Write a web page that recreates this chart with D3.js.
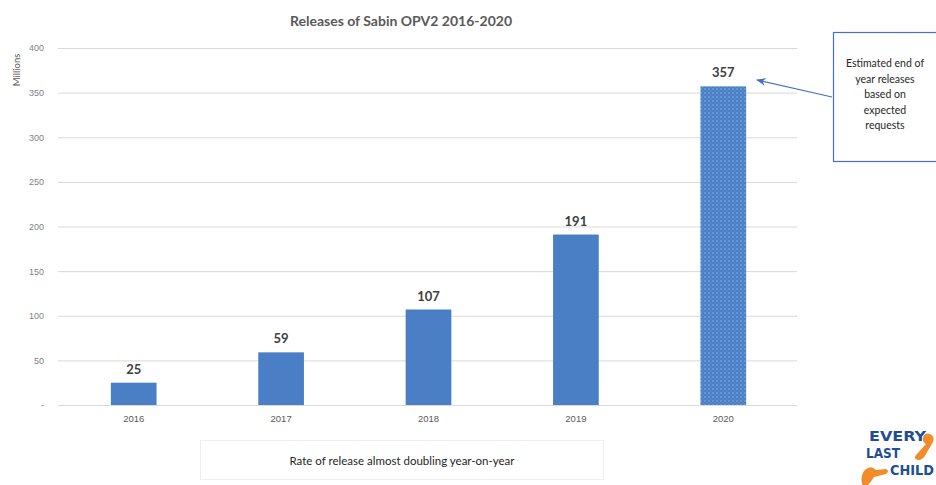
<!DOCTYPE html>
<html><head><meta charset="utf-8">
<script src="https://cdn.jsdelivr.net/npm/d3@7"></script>
<style>body{margin:0;background:#fff;}svg{display:block;font-family:Lato,"Open Sans",sans-serif;}</style>
</head><body>
<svg id="c" width="936" height="485"></svg>
<script>
const years = ["2016","2017","2018","2019","2020"];
const releases = [25, 59, 107, 191, 357];
const yTicks = [0,50,100,150,200,250,300,350,400];
const estimatedYear = "2020";
const title = "Releases of Sabin OPV2 2016-2020";
const yLabel = "Millions";
const noteText = ["Estimated end of","year releases","based on","expected","requests"];
const footText = "Rate of release almost doubling year-on-year";
const logoWords = ["EVERY","LAST","CHILD"];

const svg = d3.select("#c");
const m = {l:60, r:139, t:48, b:80};
const W = 936, H = 485;
const x = d3.scaleBand().domain(years).range([m.l, W-m.r]).paddingInner(0.69).paddingOuter(0.345);
const y = d3.scaleLinear().domain([0,400]).range([405, 48]);

const defs = svg.append("defs");
const pat = defs.append("pattern").attr("id","dots").attr("patternUnits","userSpaceOnUse").attr("width",4).attr("height",4);
pat.append("rect").attr("width",4).attr("height",4).attr("fill","#4a7fc6");
pat.append("circle").attr("cx",1).attr("cy",1).attr("r",0.8).attr("fill","#8fb3e3");
pat.append("circle").attr("cx",3).attr("cy",3).attr("r",0.6).attr("fill","#6f9bd6");
const mk = defs.append("marker").attr("id","arr").attr("viewBox","0 0 10 10").attr("refX",9).attr("refY",5)
  .attr("markerWidth",8).attr("markerHeight",8).attr("orient","auto-start-reverse");
mk.append("path").attr("d","M0,1 L10,5 L0,9 L3,5 Z").attr("fill","#4472c4");

// gridlines + y axis
const yAxis = d3.axisLeft(y).tickValues(yTicks).tickSize(-(W-m.r-m.l+2)).tickPadding(14)
  .tickFormat(d => d===0 ? "-" : d);
const gy = svg.append("g").attr("transform",`translate(${m.l-2},0)`).call(yAxis);
gy.select(".domain").remove();
gy.selectAll(".tick line").attr("stroke","#d9d9d9").attr("stroke-width",1);
gy.selectAll(".tick text").attr("fill","#7f7f7f").style("font-size","9px");

// x axis labels
const xAxis = d3.axisBottom(x).tickSize(0).tickPadding(10);
const gx = svg.append("g").attr("transform",`translate(0,${y(0)})`).call(xAxis);
gx.select(".domain").remove();
gx.selectAll(".tick text").attr("fill","#595959").style("font-size","9.5px");

// bars
svg.selectAll(".bar").data(years).join("rect")
  .attr("x", d=>x(d)).attr("width", x.bandwidth())
  .attr("y", (d,i)=>y(releases[i])).attr("height",(d,i)=>y(0)-y(releases[i]))
  .attr("fill", d=> d===estimatedYear ? "url(#dots)" : "#4a7fc6");

svg.selectAll(".val").data(years).join("text")
  .attr("x", d=>x(d)+x.bandwidth()/2).attr("y",(d,i)=>y(releases[i])-9)
  .attr("text-anchor","middle").attr("fill","#404040").style("font-size","13px").style("font-weight","bold")
  .text((d,i)=>releases[i]);

// title
svg.append("text").attr("x",401).attr("y",26).attr("text-anchor","middle").attr("fill","#595959")
  .style("font-size","14px").style("font-weight","bold").text(title);

// y label
svg.append("text").attr("transform","translate(20,70) rotate(-90)").attr("text-anchor","middle")
  .attr("fill","#595959").style("font-size","9.5px").text(yLabel);

// annotation box
svg.append("rect").attr("x",833.5).attr("y",32.5).attr("width",120).attr("height",129)
  .attr("fill","#fff").attr("stroke","#4472c4").attr("stroke-width",1.2);
const nt = svg.append("text").attr("text-anchor","middle").attr("fill","#262626").style("font-size","10.5px");
noteText.forEach((t,i)=> nt.append("tspan").attr("x",885).attr("y",67+i*15.5).text(t));
svg.append("line").attr("x1",832).attr("y1",97).attr("x2",757).attr("y2",80)
  .attr("stroke","#4472c4").attr("stroke-width",1.2).attr("marker-end","url(#arr)");

// footer box
svg.append("rect").attr("x",200.5).attr("y",440.5).attr("width",403).attr("height",39)
  .attr("fill","#fff").attr("stroke","#eeeeee").attr("stroke-width",1);
svg.append("text").attr("x",402).attr("y",465).attr("text-anchor","middle").attr("fill","#262626")
  .style("font-size","11.5px").text(footText);

// logo
const lg = svg.append("g");
lg.append("path").attr("d","M930,434 q-5,-2 -7,3 q-1,5 3,7 l-10,11 q-3,4 2,5 q5,0 8,-6 l7,-12 q2,-6 -3,-8 z").attr("fill","#f28c28");
lg.append("path").attr("d","M862,484 q-2,-10 4,-15 q6,-4 10,1 l10,-1 q4,2 0,5 l-12,3 q-3,5 -6,8 q-4,3 -6,-1 z").attr("fill","#f28c28");
const logoPos = [[869,441,57],[866,458,34],[890,475,44]];
logoWords.forEach((w,i)=>{
  svg.append("text").attr("x",logoPos[i][0]).attr("y",logoPos[i][1])
    .attr("textLength",logoPos[i][2]).attr("lengthAdjust","spacingAndGlyphs")
    .attr("fill","#1f4e96").style("font-size","14px").style("font-weight","bold")
    .style("font-family","'DejaVu Sans Condensed','Liberation Sans Narrow',sans-serif").text(w);
});
</script>
</body></html>
